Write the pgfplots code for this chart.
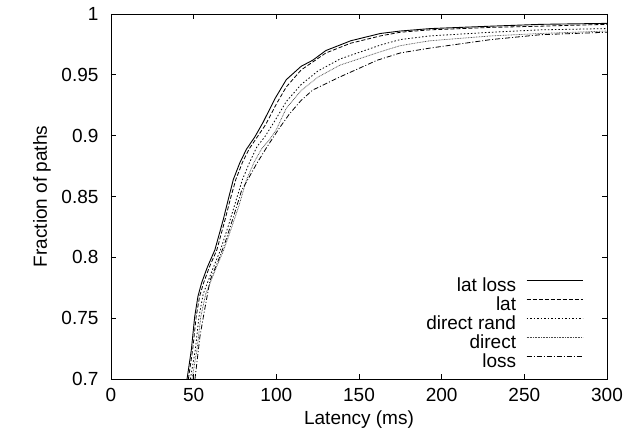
\documentclass[border=0pt]{standalone}
\usepackage{fontspec}
\setmainfont{Liberation Sans}
\usepackage{pgfplots}
\pgfplotsset{compat=1.18}
\begin{document}
\fontsize{19bp}{22bp}\selectfont
\begin{tikzpicture}
\begin{axis}[
  scale only axis, width=496bp, height=365bp,
  xmin=0, xmax=300, ymin=0.7, ymax=1,
  xtick={0,50,100,150,200,250,300},
  ytick={0.7,0.75,0.8,0.85,0.9,0.95,1},
  yticklabels={0.7,0.75,0.8,0.85,0.9,0.95,1},
  /pgf/number format/assume math mode=true,
  tick align=inside, major tick length=5bp,
  tick style={black, line width=0.7bp},
  axis line style={black, line width=0.9bp},
  xticklabel style={yshift=-3bp},
  yticklabel style={xshift=-6bp},
  every axis x label/.style={at={(axis description cs:0.5,0)}, anchor=center, yshift=-41bp},
  every axis y label/.style={at={(axis description cs:0,0.5)}, anchor=center, xshift=-69bp, rotate=90},
  xlabel={Latency (ms)},
  ylabel={Fraction of paths},
  legend plot pos=right,
  legend cell align=right,
  legend image code/.code={\path (0bp,0bp); \draw[#1] (10bp,6.5bp) -- (66bp,6.5bp);},
  legend style={draw=none, fill=none, inner sep=0bp, row sep=2bp,
    at={(rel axis cs:0.952,0.02)}, anchor=south east,
    nodes={inner sep=0bp, text height=13bp, text depth=4bp}},
]
\addplot[black, line width=0.9bp] coordinates {
(46.0,0.70) (48.6,0.724) (50.6,0.751) (52.6,0.768) (54.8,0.779) (58.3,0.792) (62.8,0.806) (67.9,0.831) (71,0.848) (74,0.864) (78,0.878) (82,0.889) (87,0.899) (92,0.911) (99,0.930) (106,0.946) (115,0.957) (122,0.962) (130,0.970) (138.5,0.9745) (145,0.978) (163,0.984) (175,0.986) (193,0.988) (230,0.990) (260,0.9915) (300,0.9923)
};
\addlegendentry{lat loss}
\addplot[black, line width=0.8bp, dash pattern=on 4bp off 2bp] coordinates {
(46.8,0.70) (49.4,0.724) (51.5,0.751) (53.6,0.768) (56,0.779) (59.5,0.792) (64,0.806) (69,0.831) (72.2,0.848) (75.5,0.864) (79.5,0.878) (83.5,0.889) (88.5,0.899) (93.5,0.909) (100,0.926) (106,0.940) (115,0.954) (130,0.968) (145,0.976) (163,0.982) (175,0.985) (193,0.987) (230,0.989) (260,0.990) (300,0.9915)
};
\addlegendentry{lat}
\addplot[black, line width=0.8bp, dash pattern=on 1.5bp off 2bp] coordinates {
(48,0.70) (51,0.724) (53.2,0.751) (55.8,0.770) (58.3,0.779) (62,0.792) (66.2,0.806) (71,0.826) (75,0.844) (79.5,0.864) (83.8,0.878) (88.3,0.891) (93,0.899) (99,0.912) (106,0.928) (115,0.942) (125,0.953) (138.5,0.963) (163,0.9745) (175,0.979) (193,0.982) (230,0.985) (260,0.987) (300,0.988)
};
\addlegendentry{direct rand}
\addplot[black!70, line width=0.7bp, dash pattern=on 0.8bp off 0.8bp] coordinates {
(49,0.70) (52,0.724) (54.3,0.751) (57.3,0.770) (60,0.779) (63.8,0.792) (68.2,0.806) (72.8,0.824) (77.3,0.842) (82,0.864) (86.5,0.878) (91,0.889) (96,0.897) (100,0.905) (106,0.9225) (115,0.937) (125,0.948) (138.5,0.958) (163,0.969) (175,0.974) (193,0.978) (230,0.982) (260,0.984) (300,0.986)
};
\addlegendentry{direct}
\addplot[black, line width=0.8bp, dash pattern=on 5bp off 2bp on 1bp off 2bp] coordinates {
(50.8,0.70) (53.8,0.735) (56.5,0.756) (59.9,0.781) (64.5,0.796) (69,0.812) (74,0.833) (79,0.855) (84,0.867) (88.1,0.877) (94,0.890) (101.2,0.905) (108,0.918) (115,0.929) (122,0.9375) (138,0.948) (161,0.962) (175,0.968) (193,0.972) (230,0.979) (260,0.983) (300,0.985)
};
\addlegendentry{loss}
\end{axis}
\path (current axis.south west) ++(-111bp,-59bp) rectangle ++(636bp,438bp);
\end{tikzpicture}
\end{document}
